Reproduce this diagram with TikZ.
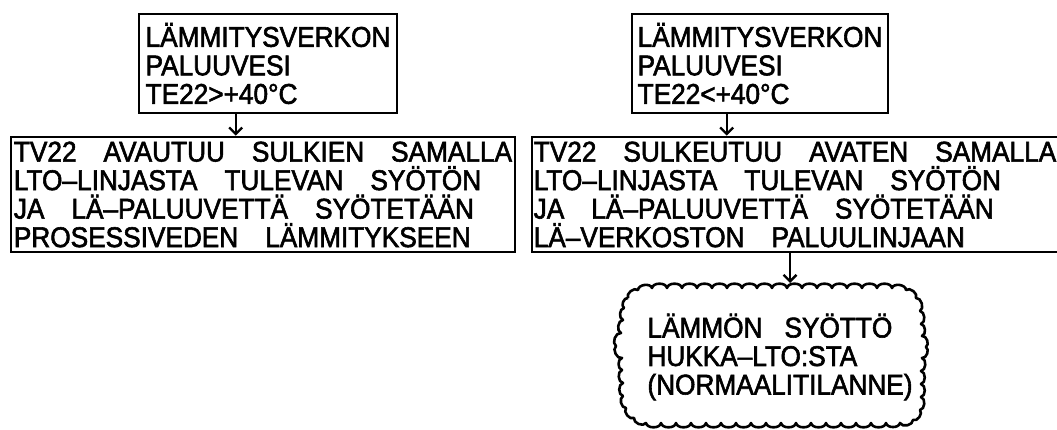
\documentclass[tikz,border=0pt]{standalone}
\usepackage{fontspec}
\newfontfamily\cad[FakeStretch=0.92,FakeBold=2]{Liberation Sans}
\usetikzlibrary{arrows.meta}
\newcommand\wg{\hspace{27pt}}
\begin{document}
\begin{tikzpicture}[x=1pt,y=-1pt,
  txt/.style={align=left, inner sep=0pt, font=\cad\fontsize{28.5}{28.5}\selectfont},
  box/.style={txt, draw, line width=2.6pt},
  arr/.style={line width=2.4pt, -{Straight Barb[length=6.5pt,width=13pt]}},
  cloudline/.style={line width=2.6pt, line join=round},
  b/.style={bend left=80}
 ]
\fill[white] (0,0) rectangle (1057,430);
\useasboundingbox (0,0) rectangle (1057,430);
\node[box, minimum width=258pt, minimum height=99pt] (tl) at (268,63.5)
  {LÄMMITYSVERKON\\PALUUVESI\\TE22>+40°C};
\node[box, minimum width=256pt, minimum height=99pt] (tr) at (760,63.5)
  {LÄMMITYSVERKON\\PALUUVESI\\TE22<+40°C};
\node[box, minimum width=504pt, minimum height=115pt] (bl) at (263,194.5)
  {TV22\wg AVAUTUU\wg SULKIEN\wg SAMALLA\\LTO–LINJASTA\wg TULEVAN\wg SYÖTÖN\\JA\wg LÄ–PALUUVETTÄ\wg SYÖTETÄÄN\\PROSESSIVEDEN\wg LÄMMITYKSEEN};
\node[box, minimum width=526pt, minimum height=115pt] (br) at (795,194.5)
  {TV22\wg SULKEUTUU\wg AVATEN\wg SAMALLA\\LTO–LINJASTA\wg TULEVAN\wg SYÖTÖN\\JA\wg LÄ–PALUUVETTÄ\wg SYÖTETÄÄN\\LÄ–VERKOSTON\wg PALUULINJAAN};
\node[txt] (cl) at (780,357)
  {LÄMMÖN\hspace{22pt}SYÖTTÖ\\HUKKA–LTO:STA\\(NORMAALITILANNE)};
\draw[cloudline]
  (628,298) to[b] (638,290) to[b] (652,288) to[b] (667,288) to[b] (682,288) to[b] (697,288)
  to[b] (712,288) to[b] (727,288) to[b] (742,288) to[b] (757,288) to[b] (772,288) to[b] (787,288)
  to[b] (802,288) to[b] (817,288) to[b] (832,288) to[b] (847,288) to[b] (862,288) to[b] (877,288)
  to[b] (892,288) to[b] (906,290) to[b] (916,298)
  to[b] (920,311) to[b] (921,324) to[b] (922,336) to[b] (926,347) to[b] (922,358) to[b] (921,371)
  to[b] (921,384) to[b] (921,397) to[b] (920,410) to[b] (913,420)
  to[b] (900,423) to[b] (886,423) to[b] (871,423) to[b] (856,423) to[b] (841,423) to[b] (826,423)
  to[b] (811,423) to[b] (796,423) to[b] (781,423) to[b] (766,423) to[b] (751,423) to[b] (736,423)
  to[b] (721,423) to[b] (706,423) to[b] (691,423) to[b] (676,423) to[b] (661,423) to[b] (646,423)
  to[b] (634,418)
  to[b] (626,408) to[b] (623,396) to[b] (623,383) to[b] (622,370) to[b] (622,358) to[b] (616,346)
  to[b] (621,333) to[b] (623,320) to[b] (624,308) to[b] (628,298);
\coordinate (cltop) at (790,283);
\draw[arr] ([xshift=98pt]tl.south west) -- ([xshift=98pt]tl.south west |- bl.north);
\draw[arr] ([xshift=96pt]tr.south west) -- ([xshift=96pt]tr.south west |- br.north);
\draw[arr] (cltop |- br.south) -- (cltop);
\end{tikzpicture}
\end{document}
